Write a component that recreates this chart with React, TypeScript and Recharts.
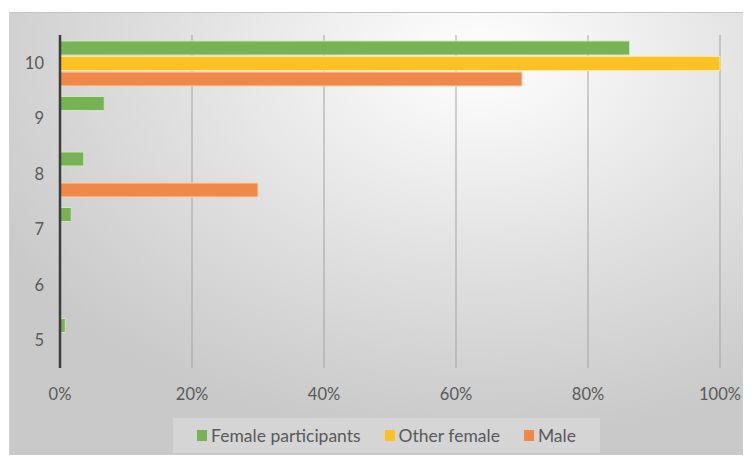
import React from 'react';
import { BarChart, Bar, XAxis, YAxis, CartesianGrid, Legend } from 'recharts';

const categories = ['10', '9', '8', '7', '6', '5'];
const femaleParticipants = [0.863, 0.067, 0.036, 0.017, null, 0.008];
const otherFemale = [1.0, null, null, null, null, null];
const male = [0.7, null, 0.3, null, null, null];
const xTicks = [0, 0.2, 0.4, 0.6, 0.8, 1];

const series = [
    { key: 'femaleParticipants', name: 'Female participants', color: '#77b254', edge: '#cfe6bf' },
    { key: 'otherFemale', name: 'Other female', color: '#fdc123', edge: '#ffe6a6' },
    { key: 'male', name: 'Male', color: '#ee8948', edge: '#f9d1b6' },
];

const data = categories.map((c, i) => ({
    level: c,
    femaleParticipants: femaleParticipants[i],
    otherFemale: otherFemale[i],
    male: male[i],
}));

const FONT = 'Lato, "Open Sans", sans-serif';

const LegendBox = () => (
    <div
        style={{
            width: 427,
            height: 35,
            background: 'rgba(255,255,255,0.22)',
            display: 'flex',
            alignItems: 'center',
            justifyContent: 'center',
            gap: 24,
            fontFamily: FONT,
            fontSize: 17.5,
            color: '#595959',
        }}
    >
        {series.map((s) => (
            <div key={s.key} style={{ display: 'flex', alignItems: 'center', gap: 4 }}>
                <span style={{ display: 'inline-block', width: 10, height: 11, background: s.color }} />
                <span>{s.name}</span>
            </div>
        ))}
    </div>
);

const App: React.FC = () => {
    return (
        <div
            style={{
                position: 'relative',
                left: 1,
                top: 4,
                width: 742,
                height: 447,
                boxSizing: 'border-box',
                borderTop: '1px solid #c4c4c4',
                borderLeft: '1px solid #d0d0d0',
                background:
                    'radial-gradient(ellipse 75% 85% at 63% 10%, #ffffff 0%, #f1f1f1 25%, #e0e0e0 55%, #d3d3d3 80%, #c9c9c9 100%)',
            }}
        >
            <BarChart
                width={742}
                height={447}
                data={data}
                layout="vertical"
                margin={{ top: 23, right: 31, left: 0, bottom: 61 }}
                barCategoryGap={6}
                barGap={1.5}
                style={{ position: 'absolute', left: -1, top: -1 }}
            >
                <CartesianGrid horizontal={false} stroke="#a3a3a3" strokeWidth={1} />
                <XAxis
                    type="number"
                    domain={[0, 1]}
                    ticks={xTicks}
                    tickFormatter={(v) => `${Math.round(v * 100)}%`}
                    axisLine={false}
                    tickLine={false}
                    tickSize={0}
                    tickMargin={20}
                    height={30}
                    interval={0}
                    tick={{ fill: '#595959', fontSize: 16.5, fontFamily: FONT }}
                />
                <YAxis
                    type="category"
                    dataKey="level"
                    width={51}
                    axisLine={{ stroke: '#3d3d3d', strokeWidth: 2.5 }}
                    tickLine={false}
                    tickSize={0}
                    tickMargin={16}
                    tick={{ fill: '#595959', fontSize: 16.5, fontFamily: FONT }}
                />
                {series.map((s) => (
                    <Bar
                        key={s.key}
                        dataKey={s.key}
                        name={s.name}
                        fill={s.color}
                        stroke={s.edge}
                        strokeWidth={1}
                        isAnimationActive={false}
                    />
                ))}
                <Legend
                    layout="horizontal"
                    verticalAlign="middle"
                    align="center"
                    wrapperStyle={{ top: 406, left: 164, width: 427 }}
                    content={() => <LegendBox />}
                />
            </BarChart>
        </div>
    );
};

export default App;
